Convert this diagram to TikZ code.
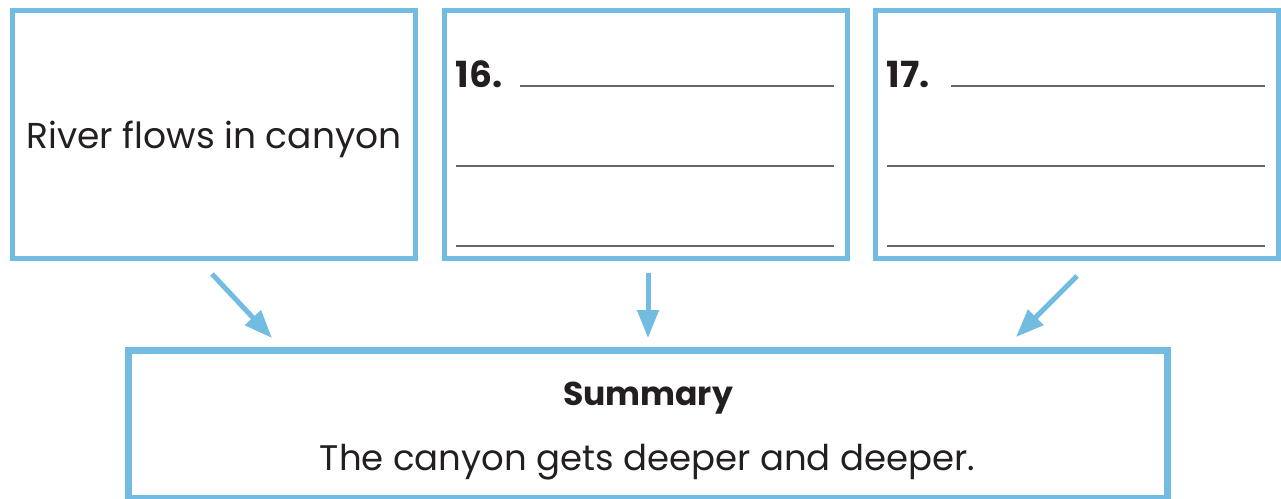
\documentclass[tikz,border=0pt]{standalone}
\usepackage{fontspec}
\setmainfont{Poppins}
\usetikzlibrary{arrows.meta, positioning, calc}
\definecolor{skyline}{HTML}{71BCE0}
\definecolor{ruleline}{HTML}{666666}
\definecolor{inktext}{HTML}{231F20}
\tikzstyle{infobox}    = [rectangle, draw=skyline, line width=5pt, minimum width=403pt, minimum height=248pt, inner sep=0pt, outer sep=0pt, text=inktext]
\tikzstyle{summarybox} = [rectangle, draw=skyline, line width=7pt, minimum width=1038.5pt, minimum height=148.5pt, inner sep=0pt, outer sep=0pt]
\tikzstyle{boxtext}    = [inner sep=0pt, anchor=base, text=inktext, font=\fontsize{36}{40}\selectfont]
\tikzstyle{numlabel}   = [inner sep=0pt, anchor=base west, text=inktext, font=\fontsize{36}{40}\selectfont\bfseries]
\tikzstyle{answerline} = [draw=ruleline, line width=2pt]
\tikzstyle{arrow}      = [draw=skyline, line width=5pt, -{Triangle[length=28pt, width=21pt]}]

\begin{document}
\begin{tikzpicture}[x=1pt, y=-1pt, node distance=29pt]
\useasboundingbox (0,0) rectangle (1281,498);

\node (river) [infobox] at (214,134.5) {};
\node (ans16) [infobox, right=29pt of river] {};
\node (ans17) [infobox, right=28pt of ans16] {};
\node (summary) [summarybox] at (647.75,424.25) {};

% texts
\node (rivertext) [boxtext] at (214,148) {River flows in canyon};
\node (sumtitle) [boxtext, font=\fontsize{33}{40}\selectfont\bfseries] at (648,405) {Summary};
\node (sumtext) [boxtext, font=\fontsize{35.5}{40}\selectfont] at (647.5,470) {The canyon gets deeper and deeper.};

% answer lines
\foreach \b/\n in {ans16/16, ans17/17}{
  \node (num\n) [numlabel] at ($(\b.north west)+(11,76.5)$) {\n.};
  \draw [answerline] ($(\b.north west)+(75,75.5)$) -- ($(\b.north east)+(-13.5,75.5)$);
  \draw [answerline] ($(\b.north west)+(11,155.5)$) -- ($(\b.north east)+(-13.5,155.5)$);
  \draw [answerline] ($(\b.north west)+(11,235.5)$) -- ($(\b.north east)+(-13.5,235.5)$);
}

% arrows into the summary
\coordinate (from1) at (212,274);
\coordinate (to1) at (272,338);
\coordinate (from2) at (648,273);
\coordinate (to2) at (648,338);
\coordinate (from3) at (1077,276);
\coordinate (to3) at (1016,337);
\draw [arrow] (from1) -- (to1);
\draw [arrow] (from2) -- (to2);
\draw [arrow] (from3) -- (to3);

\end{tikzpicture}
\end{document}
